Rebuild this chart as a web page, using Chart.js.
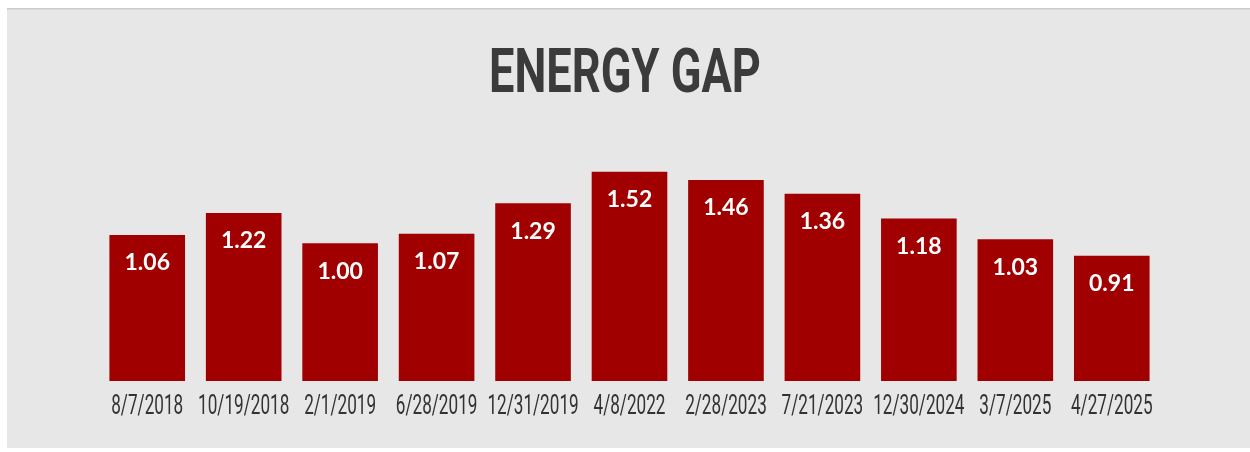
<!DOCTYPE html>
<html>
<head>
<meta charset="utf-8">
<script src="https://cdn.jsdelivr.net/npm/chart.js@4.4.1/dist/chart.umd.min.js"></script>
<style>
html,body{margin:0;padding:0;background:#ffffff;}
#wrap{width:1250px;height:452px;position:relative;}
</style>
</head>
<body>
<div id="wrap"><canvas id="c" width="1250" height="452"></canvas></div>
<script>
const categories = ["8/7/2018","10/19/2018","2/1/2019","6/28/2019","12/31/2019","4/8/2022","2/28/2023","7/21/2023","12/30/2024","3/7/2025","4/27/2025"];
const energyGap = [1.06,1.22,1.00,1.07,1.29,1.52,1.46,1.36,1.18,1.03,0.91];
const chartTitle = "ENERGY GAP";

const panelPlugin = {
  id: 'panel',
  beforeDraw(chart){
    const ctx = chart.ctx;
    ctx.save();
    ctx.fillStyle = '#ffffff';
    ctx.fillRect(0,0,chart.width,chart.height);
    ctx.fillStyle = '#e7e7e7';
    ctx.fillRect(7,8,chart.width-7,440);
    ctx.fillStyle = '#cbcbcb';
    ctx.fillRect(7,8,chart.width-7,1.5);
    ctx.restore();
  }
};

// condensed text drawing (no condensed font installed): horizontal scaling
function drawCondensed(ctx, text, cx, baseline, sx){
  ctx.save();
  ctx.translate(cx, baseline);
  ctx.scale(sx, 1);
  ctx.textAlign = 'center';
  ctx.textBaseline = 'alphabetic';
  ctx.fillText(text, 0, 0);
  ctx.restore();
}

const textPlugin = {
  id: 'texts',
  afterDraw(chart){
    const ctx = chart.ctx;
    ctx.save();
    // title
    ctx.fillStyle = '#3b3b3b';
    ctx.font = 'bold 62px Roboto, sans-serif';
    const tw = ctx.measureText(chartTitle).width;
    drawCondensed(ctx, chartTitle, 625, 92, 272 / tw);
    // x tick labels, positioned by the x scale
    const xs = chart.scales.x;
    ctx.fillStyle = '#333333';
    ctx.font = '28px Roboto, sans-serif';
    const ref = ctx.measureText(categories[0]).width;
    const sx = 72 / ref;
    categories.forEach((lab, i) => {
      drawCondensed(ctx, lab, xs.getPixelForValue(i), 414, sx);
    });
    ctx.restore();
  },
  afterDatasetsDraw(chart){
    const ctx = chart.ctx;
    const meta = chart.getDatasetMeta(0);
    ctx.save();
    ctx.fillStyle = '#ffffff';
    ctx.font = 'bold 23px Lato, "Open Sans", sans-serif';
    ctx.textAlign = 'center';
    ctx.textBaseline = 'middle';
    meta.data.forEach((bar,i)=>{
      ctx.fillText(energyGap[i].toFixed(2), bar.x, bar.y + 28);
    });
    ctx.restore();
  }
};

new Chart(document.getElementById('c'), {
  type: 'bar',
  data: {
    labels: categories,
    datasets: [{
      data: energyGap,
      backgroundColor: '#a00000',
      borderWidth: 0,
      categoryPercentage: 0.8,
      barPercentage: 0.98
    }]
  },
  options: {
    responsive: false,
    animation: false,
    devicePixelRatio: 1,
    layout: { padding: { left: 99, right: 90, top: 140, bottom: 0 } },
    plugins: {
      legend: { display: false },
      tooltip: { enabled: false },
      title: { display: false }
    },
    scales: {
      x: {
        grid: { display: false },
        border: { display: false },
        ticks: { display: false },
        afterFit(s){ s.height = 71; }
      },
      y: {
        display: false,
        min: 0,
        max: 1.75
      }
    }
  },
  plugins: [panelPlugin, textPlugin]
});
</script>
</body>
</html>
